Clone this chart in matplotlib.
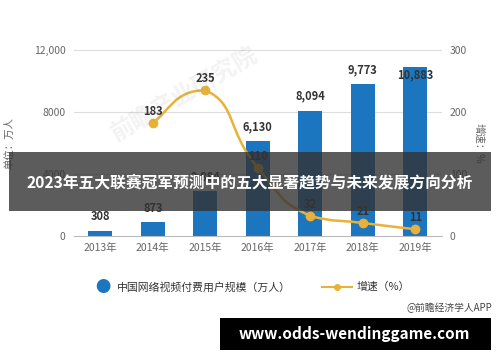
import numpy as np
import matplotlib.pyplot as plt
from matplotlib.path import Path
from matplotlib.patches import PathPatch, Rectangle

plt.rcParams['font.family'] = ['Noto Sans CJK SC', 'DejaVu Sans']

# 数据
years = ['2013年', '2014年', '2015年', '2016年', '2017年', '2018年', '2019年']
users = [308, 873, 2884, 6130, 8094, 9773, 10883]
user_labels = ['308', '873', '2,884', '6,130', '8,094', '9,773', '10,883']
growth_years = [1, 2, 3, 4, 5, 6]
growth = [183, 235, 110, 32, 21, 11]

blue = '#1b76bf'
gold = '#e8b23a'
grey = '#666666'

fig = plt.figure(figsize=(5, 3.62), dpi=100)
ax = fig.add_axes([0.148, 0.348, 0.735, 0.514])
ax2 = ax.twinx()

x = np.arange(len(years))
ax.bar(x, users, width=0.46, color=blue, zorder=2)
ax.set_xlim(-0.5, 6.5)
ax.set_ylim(0, 12000)
ax.set_yticks([0, 4000, 8000, 12000])
ax.set_yticklabels(['0', '4000', '8000', '12,000'])
ax.set_xticks(x)
ax.set_xticklabels(years)
ax.yaxis.grid(True, color='#dddddd', lw=0.8, zorder=0)
for s in ['top', 'right', 'left']:
    ax.spines[s].set_visible(False)
    ax2.spines[s].set_visible(False)
ax2.spines['bottom'].set_visible(False)
ax.spines['bottom'].set_color('#bbbbbb')
ax.tick_params(axis='both', length=0, colors=grey, labelsize=7.5)
ax.tick_params(axis='x', pad=5)
ax.tick_params(axis='y', pad=6)
ax.set_ylabel('单位：万人', color=grey, fontsize=7.5, labelpad=14)

# 柱标签
for i, (v, t) in enumerate(zip(users, user_labels)):
    off = -900 if i == 6 else 500
    ax.text(i, v + off, t, ha='center', va='bottom', fontsize=8,
            fontweight='bold', color='#333333', zorder=4)

# 增速曲线（平滑，单调）
ax2.set_ylim(0, 300)
ax2.set_yticks([0, 100, 200, 300])
ax2.tick_params(axis='y', length=0, colors=grey, labelsize=7.5, pad=6)
ax2.set_ylabel('增速：%', color=grey, fontsize=7.5, rotation=270, labelpad=12)

px = np.array(growth_years, dtype=float)
py = np.array(growth, dtype=float)
verts = [(px[0], py[0])]
codes = [Path.MOVETO]
sm = 0.3
n = len(px)
for i in range(n - 1):
    p0 = (px[max(i - 1, 0)], py[max(i - 1, 0)])
    p1 = (px[i], py[i])
    p2 = (px[i + 1], py[i + 1])
    p3 = (px[min(i + 2, n - 1)], py[min(i + 2, n - 1)])
    lo, hi = min(p1[1], p2[1]), max(p1[1], p2[1])
    c1y = min(max(p1[1] + (p2[1] - p0[1]) * sm, lo), hi)
    c2y = min(max(p2[1] - (p3[1] - p1[1]) * sm, lo), hi)
    c1 = (p1[0] + (p2[0] - p0[0]) * sm, c1y)
    c2 = (p2[0] - (p3[0] - p1[0]) * sm, c2y)
    verts += [c1, c2, p2]
    codes += [Path.CURVE4] * 3
ax2.add_patch(PathPatch(Path(verts, codes), fill=False, edgecolor=gold, lw=1.8, zorder=3))
ax2.plot(growth_years, growth, 'o', color=gold, ms=6, zorder=4)
for gx, gy in zip(growth_years, growth):
    ax2.text(gx, gy + 8, str(gy), ha='center', va='bottom', fontsize=8,
             fontweight='bold', color='#333333', zorder=5)

# 水印
fig.text(0.37, 0.74, '前瞻产业研究院', rotation=30, fontsize=17, color='#888888',
         alpha=0.1, ha='center', va='center', fontweight='bold')

# 图例
fig.text(0.206, 0.207, '●', color=blue, fontsize=11, ha='center', va='center')
fig.text(0.234, 0.207, '中国网络视频付费用户规模（万人）', color='#333333', fontsize=7.8, va='center')
fig.add_artist(plt.Line2D([0.644, 0.704], [0.207, 0.207], color=gold, lw=1.5))
fig.add_artist(plt.Line2D([0.674], [0.207], marker='o', color=gold, ms=4))
fig.text(0.714, 0.207, '增速（%）', color='#333333', fontsize=7.8, va='center')
fig.text(0.984, 0.149, '@前瞻经济学人APP', color='#444444', fontsize=7, ha='right', va='center')

# 标题遮罩
fig.add_artist(Rectangle((0.018, 1 - 211 / 362), 0.964, 59 / 362, transform=fig.transFigure,
                         facecolor='#333333', alpha=0.8, edgecolor='none', zorder=10))
fig.text(0.5, 1 - 182 / 362, '2023年五大联赛冠军预测中的五大显著趋势与未来发展方向分析',
         color='white', fontsize=11.3, fontweight='bold', ha='center', va='center', zorder=11)

# 底部网址
fig.add_artist(Rectangle((0.44, 1 - 350 / 362), 0.542, 32 / 362, transform=fig.transFigure,
                         facecolor='black', edgecolor='none', zorder=10))
fig.text(0.708, 1 - 334 / 362, 'www.odds-wendinggame.com', color='white', fontsize=11,
         fontweight='bold', ha='center', va='center', zorder=11)

fig.savefig('out.png', dpi=100)
